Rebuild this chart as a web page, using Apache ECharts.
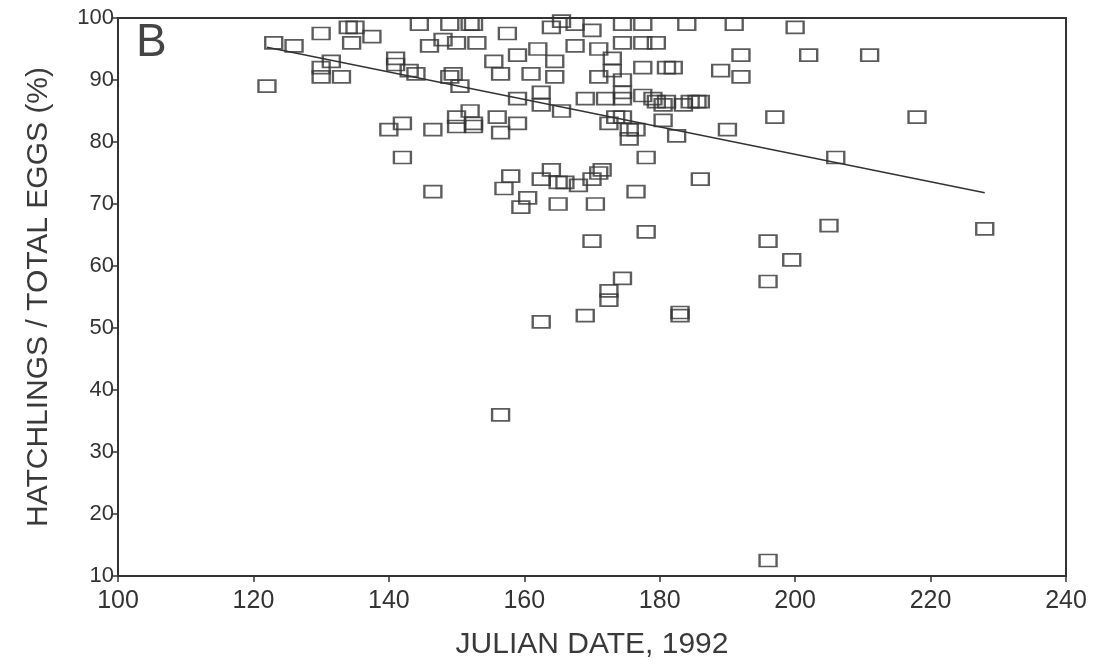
<html>

<head>
    <meta charset="utf-8" />
    <title>Hatching success</title>
    <script src="https://cdn.jsdelivr.net/npm/echarts@6/dist/echarts.min.js"></script>
    <style>
        html, body { margin: 0; padding: 0; background: #fff; }
        #scatterChart { width: 1096px; height: 665px; }
    </style>
</head>

<body>
<div id="scatterChart"></div>

<script>
    // julian date / hatchlings as % of total eggs
    const julianDate = [
        122, 123, 126, 130, 130, 130, 131.5, 133, 134, 134.5, 137.5,
        141, 141, 140, 142, 142, 143, 144, 144.5, 146.5, 146.5, 146, 148, 149,
        149, 149.5, 150, 150.5, 150, 150, 152, 152.5, 152, 152.5, 152.5, 153,
        155.5, 156, 156.5, 156.5, 156.5, 157, 157.5, 158, 159, 159, 159, 159.5,
        160.5, 161, 162, 162.5, 162.5, 162.5, 162.5, 164, 164, 164.5, 164.5,
        165, 165, 165.5, 165.5, 166, 167.5, 167.5, 168, 169, 169, 170, 170,
        171, 171.5, 170.5, 170, 171, 171, 172, 172.5, 172.5, 172.5, 173, 173,
        173.5, 174.5, 174.5, 174.5, 174.5, 174.5, 174.5, 174.5, 175.5, 175.5,
        176.5, 176.5, 177.5, 177.5, 177.5, 177.5, 178, 178, 179, 179.5, 179.5,
        180.5, 181, 180.5, 181, 182, 183, 183, 182.5, 183.5, 184.5, 185.5, 186,
        184, 186, 189, 190, 191, 192, 192, 196, 196, 196, 197, 199.5, 200, 202,
        205, 206, 211, 218, 228, 135
    ];
    const hatchPct = [
        89, 96, 95.5, 97.5, 92, 90.5, 93, 90.5, 98.5, 96, 97,
        93.5, 92.5, 82, 83, 77.5, 91.5, 91, 99, 82, 72, 95.5, 96.5, 99,
        90.5, 91, 96, 89, 84, 82.5, 99, 99, 85, 83, 82.5, 96,
        93, 84, 91, 81.5, 36, 72.5, 97.5, 74.5, 83, 87, 94, 69.5,
        71, 91, 95, 51, 88, 86, 74, 75.5, 98.5, 93, 90.5,
        70, 73.5, 85, 99.5, 73.5, 99, 95.5, 73, 87, 52, 64, 74,
        75, 75.5, 70, 98, 95, 90.5, 87, 83, 56, 54.5, 93.5, 91.5,
        84, 99, 96, 90, 88, 87, 84, 58, 80.5, 82,
        72, 82, 99, 96, 92, 87.5, 65.5, 77.5, 87, 96, 86.5,
        86, 86.5, 83.5, 92, 92, 52, 52.5, 81, 86, 86.5, 86.5, 86.5,
        99, 74, 91.5, 82, 99, 94, 90.5, 64, 57.5, 12.5, 84, 61, 98.5, 94,
        66.5, 77.5, 94, 84, 66, 98.5
    ];
    // least squares line end points
    const fitX = [122, 228];
    const fitY = [95.3, 71.8];

    const xTicks = [100, 240, 20];
    const yTicks = [10, 100, 10];

    const ink = '#333';
    const font = 'Arial, "Liberation Sans", sans-serif';

    let chart = echarts.init(document.getElementById('scatterChart'));

    chart.setOption({
        animation: false,
        backgroundColor: '#fff',
        grid: {
            left: 118,
            right: 30,
            top: 18,
            bottom: 89,
            show: true,
            borderColor: ink,
            borderWidth: 2
        },
        xAxis: {
            type: 'value',
            min: xTicks[0],
            max: xTicks[1],
            interval: xTicks[2],
            name: 'JULIAN DATE, 1992',
            nameLocation: 'middle',
            nameGap: 54,
            nameTextStyle: { fontFamily: font, fontSize: 30, color: '#3a3a3a' },
            axisLine: { lineStyle: { color: ink, width: 2 } },
            axisTick: { length: 6, lineStyle: { color: ink, width: 1.5 } },
            axisLabel: { fontFamily: font, fontSize: 25, color: '#333', margin: 13 },
            splitLine: { show: false }
        },
        yAxis: {
            type: 'value',
            min: yTicks[0],
            max: yTicks[1],
            interval: yTicks[2],
            name: 'HATCHLINGS / TOTAL EGGS (%)',
            nameLocation: 'middle',
            nameGap: 64,
            nameTextStyle: { fontFamily: font, fontSize: 30, color: '#3a3a3a' },
            axisLine: { lineStyle: { color: ink, width: 2 } },
            axisTick: { length: 6, lineStyle: { color: ink, width: 1.5 } },
            axisLabel: { fontFamily: font, fontSize: 22, color: '#333', margin: 4 },
            splitLine: { show: false }
        },
        graphic: [{
            type: 'text',
            left: 136,
            top: 20,
            style: { text: 'B', fontFamily: font, fontSize: 46, fill: '#444' }
        }],
        series: [
            {
                type: 'scatter',
                data: julianDate.map((d, i) => [d, hatchPct[i]]),
                symbol: 'rect',
                symbolSize: [17, 12],
                itemStyle: {
                    color: 'rgba(0,0,0,0)',
                    borderColor: ink,
                    borderWidth: 2
                }
            },
            {
                type: 'line',
                data: fitX.map((d, i) => [d, fitY[i]]),
                showSymbol: false,
                lineStyle: { color: ink, width: 1.5 }
            }
        ]
    });
</script>
</body>

</html>
